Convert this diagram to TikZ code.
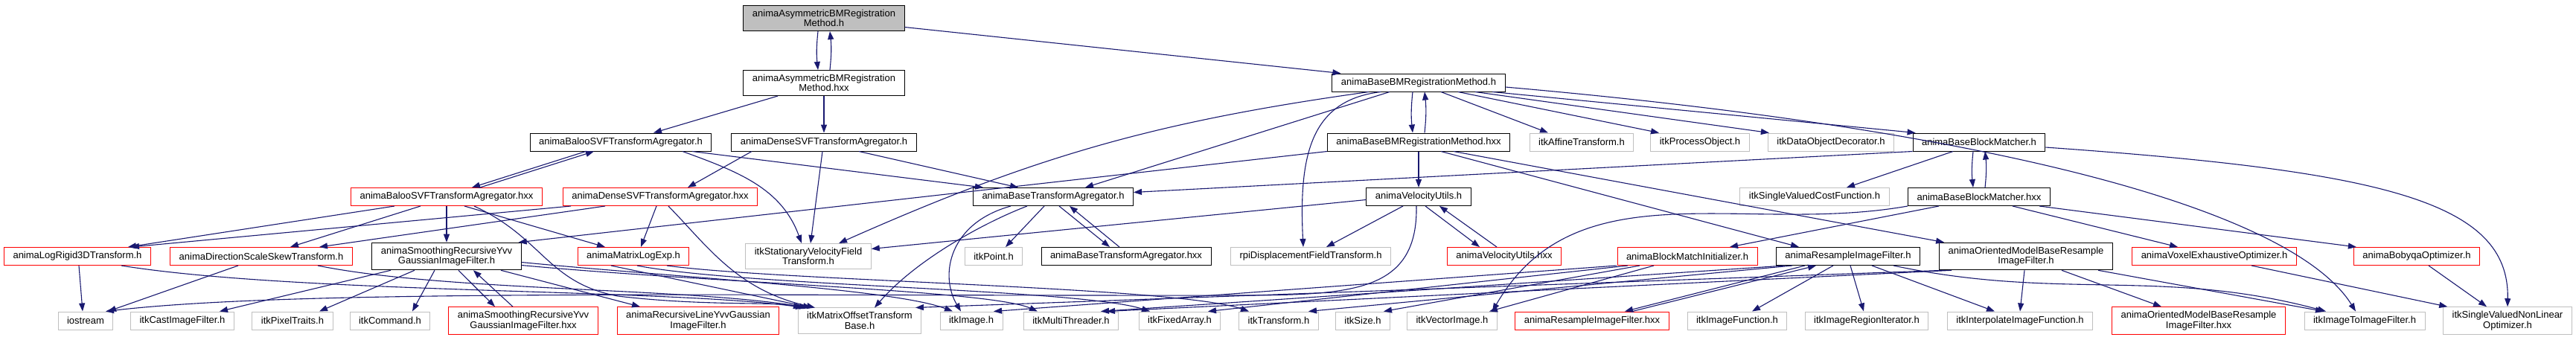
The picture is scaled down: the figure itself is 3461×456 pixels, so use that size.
\documentclass[tikz,border=0pt]{standalone}
\usepackage{fontspec}
\setmainfont{Liberation Sans}
\usetikzlibrary{arrows.meta}
\definecolor{depblue}{HTML}{191970}
\definecolor{extgray}{HTML}{BFBFBF}

\begin{document}
\begin{tikzpicture}[x=1pt, y=1pt,
    file/.style={draw=black, line width=1pt, rectangle, align=center, inner xsep=12pt, inner ysep=5.5pt,
        minimum height=24pt, font=\fontsize{13}{13.5}\selectfont},
    current/.style={file, fill=extgray},
    partial/.style={file, draw=red},
    external/.style={file, draw=extgray},
    dep/.style={draw=depblue, line width=1.1pt, -{Triangle[length=11pt, width=8pt]}}]
    \fill[white] (0,0) rectangle (3461,-456);
    \useasboundingbox (0,0) rectangle (3461,-456);

    % row 0 and 1
    \node[current] (root) at (1107,-24.5) {animaAsymmetricBMRegistration\\Method.h};
    \node[file] (Rx) at (1107,-111.5) {animaAsymmetricBMRegistration\\Method.hxx};
    \node[file] (BBMh) at (1906,-111) {animaBaseBMRegistrationMethod.h};

    % row 2
    \node[file] (BalooH) at (834,-191) {animaBalooSVFTransformAgregator.h};
    \node[file] (DenseH) at (1107,-191) {animaDenseSVFTransformAgregator.h};
    \node[file] (BBMx) at (1906,-191) {animaBaseBMRegistrationMethod.hxx};
    \node[external] (itkAffine) at (2125,-191) {itkAffineTransform.h};
    \node[external] (ProcObj) at (2284,-191) {itkProcessObject.h};
    \node[external] (DataObjDec) at (2460,-191) {itkDataObjectDecorator.h};
    \node[file] (BBlkM) at (2659,-191) {animaBaseBlockMatcher.h};

    % row 3
    \node[partial] (BalooX) at (600,-264.5) {animaBalooSVFTransformAgregator.hxx};
    \node[partial] (DenseX) at (887,-264.5) {animaDenseSVFTransformAgregator.hxx};
    \node[file] (BTA) at (1415,-264.5) {animaBaseTransformAgregator.h};
    \node[file] (VelUtils) at (1906,-264.5) {animaVelocityUtils.h};
    \node[external] (SVCost) at (2438,-264.5) {itkSingleValuedCostFunction.h};
    \node[file] (BBlkMx) at (2659,-264.5) {animaBaseBlockMatcher.hxx};

    % row 4
    \node[partial] (LogRigid) at (104,-344.5) {animaLogRigid3DTransform.h};
    \node[partial] (DirSSk) at (351,-344.5) {animaDirectionScaleSkewTransform.h};
    \node[file] (SmoothH) at (600,-344.5) {animaSmoothingRecursiveYvv\\GaussianImageFilter.h};
    \node[partial] (MatrixLogExp) at (851,-344.5) {animaMatrixLogExp.h};
    \node[external] (SVF) at (1086,-344.5) {itkStationaryVelocityField\\Transform.h};
    \node[external] (itkPoint) at (1335,-344.5) {itkPoint.h};
    \node[file] (BTAx) at (1513,-344.5) {animaBaseTransformAgregator.hxx};
    \node[external] (rpi) at (1761,-344.5) {rpiDisplacementFieldTransform.h};
    \node[partial] (VelUtilsX) at (2021,-344.5) {animaVelocityUtils.hxx};
    \node[partial] (BMInit) at (2267,-344.5) {animaBlockMatchInitializer.h};
    \node[file] (ResampleH) at (2483,-344.5) {animaResampleImageFilter.h};
    \node[file] (OrientedH) at (2722,-344.5) {animaOrientedModelBaseResample\\ImageFilter.h};
    \node[partial] (VoxelExh) at (2975,-344.5) {animaVoxelExhaustiveOptimizer.h};
    \node[partial] (Bobyqa) at (3247,-344.5) {animaBobyqaOptimizer.h};

    % row 5
    \foreach \name/\x/\txt in {iostream/115/iostream, Cast/245/itkCastImageFilter.h,
        PixelTraits/393/itkPixelTraits.h, Command/524/itkCommand.h, itkImage/1305/itkImage.h,
        MultiThreader/1439/itkMultiThreader.h, FixedArray/1585/itkFixedArray.h,
        itkTransform/1718/itkTransform.h, Size/1831/itkSize.h, VectorImage/1951/itkVectorImage.h,
        ImageFunction/2334/itkImageFunction.h, RegionIter/2508/itkImageRegionIterator.h,
        Interpolate/2714/itkInterpolateImageFunction.h, ImageToImage/3177/itkImageToImageFilter.h}
        \node[external] (\name) at (\x,-431) {\txt};
    \node[partial] (SmoothX) at (703,-431) {animaSmoothingRecursiveYvv\\GaussianImageFilter.hxx};
    \node[partial] (RecLine) at (938,-431) {animaRecursiveLineYvvGaussian\\ImageFilter.h};
    \node[external] (MOTB) at (1155,-431) {itkMatrixOffsetTransform\\Base.h};
    \node[partial] (ResampleX) at (2139,-431) {animaResampleImageFilter.hxx};
    \node[partial] (OrientedX) at (2954,-431) {animaOrientedModelBaseResample\\ImageFilter.hxx};
    \node[external] (SVNLO) at (3369,-431) {itkSingleValuedNonLinear\\Optimizer.h};

    % top
    \draw[dep] ([xshift=-8]root.south) to[bend right=6] ([xshift=-8]Rx.north);
    \draw[dep] ([xshift=8]Rx.north) to[bend right=6] ([xshift=8]root.south);
    \draw[dep] ([yshift=-12]root.east) -- ([xshift=12]BBMh.north west);
    \draw[dep] ([xshift=-62]Rx.south) -- ([xshift=44]BalooH.north);
    \draw[dep] (Rx) -- (DenseH);

    % agregators
    \draw[dep] ([xshift=-47]BalooH.south) -- ([xshift=34]BalooX.north);
    \draw[dep] ([xshift=45]BalooX.north) -- ([xshift=-36]BalooH.south);
    \draw[dep] ([xshift=83]BalooH.south) to[out=-20, in=110] ([xshift=-9]SVF.north);
    \draw[dep] ([xshift=96]BalooH.south) -- ([xshift=-94]BTA.north);
    \draw[dep] ([xshift=-97]DenseH.south) -- ([xshift=37]DenseX.north);
    \draw[dep] ([xshift=-2]DenseH.south) -- ([xshift=3]SVF.north);
    \draw[dep] ([xshift=47]DenseH.south) -- ([xshift=-47]BTA.north);

    % base registration method
    \draw[dep] ([xshift=-8]BBMh.south) to[bend right=6] ([xshift=-8]BBMx.north);
    \draw[dep] ([xshift=8]BBMx.north) to[bend right=6] ([xshift=8]BBMh.south);
    \draw[dep] ([xshift=30]BBMh.south) -- ([xshift=-45]itkAffine.north);
    \draw[dep] ([xshift=53]BBMh.south) -- ([xshift=-55]ProcObj.north);
    \draw[dep] ([xshift=76]BBMh.south) -- ([xshift=2]DataObjDec.north west);
    \draw[dep] ([xshift=99]BBMh.south) -- ([xshift=4]BBlkM.north west);
    \draw[dep] ([yshift=-6]BBMh.east) .. controls (2720,-178) and (3085,-290) .. ([xshift=-12]ImageToImage.north);
    \draw[dep] ([xshift=-39]BBMh.south) -- ([xshift=43]BTA.north);
    \draw[dep] ([xshift=-67]BBMh.south) to[bend right=8] ([xshift=41]SVF.north);
    \draw[dep] ([xshift=-51]BBMh.south) .. controls (1760,-135) and (1745,-210) .. ([xshift=-10]rpi.north);
    \draw[dep] (BBMx) -- (VelUtils);
    \draw[dep] (BBMx.south west) -- ([xshift=-4]SmoothH.north east);
    \draw[dep] ([xshift=30]BBMx.south) -- ([xshift=-66]ResampleH.north);
    \draw[dep] ([xshift=47]BBMx.south) -- ([xshift=7]OrientedH.north west);

    % velocity utils
    \draw[dep] ([yshift=-4]VelUtils.west) -- ([yshift=10]SVF.east);
    \draw[dep] ([xshift=-21]VelUtils.south) -- ([xshift=21]rpi.north);
    \draw[dep] ([xshift=9]VelUtils.south) -- ([xshift=-33]VelUtilsX.north);
    \draw[dep] ([xshift=-10]VelUtilsX.north) -- ([xshift=28]VelUtils.south);
    \draw[dep] ([xshift=-3]VelUtils.south) .. controls (1905,-390) and (1820,-396) .. (1680,-397)
        .. controls (1000,-398) and (400,-388) .. ([xshift=27]iostream.north);

    % base transform agregator
    \draw[dep] ([xshift=-12]BTA.south) -- ([xshift=16]itkPoint.north);
    \draw[dep] ([xshift=8]BTA.south) -- ([xshift=-22]BTAx.north);
    \draw[dep] ([xshift=-9]BTAx.north) -- ([xshift=22]BTA.south);
    \draw[dep] ([xshift=-57]BTA.south) .. controls (1275,-300) and (1262,-370) .. ([xshift=-14]itkImage.north);
    \draw[dep] ([xshift=-35]BTA.south) .. controls (1320,-300) and (1230,-350) .. ([xshift=20]MOTB.north);

    % block matcher
    \draw[dep] (BBlkM.south west) -- ([yshift=6]BTA.east);
    \draw[dep] ([xshift=-35]BBlkM.south) -- ([xshift=43]SVCost.north);
    \draw[dep] ([xshift=-8]BBlkM.south) to[bend right=6] ([xshift=-8]BBlkMx.north);
    \draw[dep] ([xshift=8]BBlkMx.north) to[bend right=6] ([xshift=8]BBlkM.south);
    \draw[dep] ([yshift=-7]BBlkM.east) .. controls (3200,-230) and (3372,-270) .. (SVNLO.north);
    \draw[dep] ([xshift=-54]BBlkMx.south) -- ([xshift=57]BMInit.north);
    \draw[dep] (BBlkMx.south west) to[out=-170, in=60] ([xshift=54]VectorImage.north);
    \draw[dep] ([xshift=45]BBlkMx.south) -- ([xshift=-49]VoxelExh.north);
    \draw[dep] ([xshift=81]BBlkMx.south) -- ([xshift=4]Bobyqa.north west);
    \draw[dep] ([xshift=50]VoxelExh.south) -- ([xshift=6]SVNLO.north west);
    \draw[dep] ([xshift=16]Bobyqa.south) -- ([xshift=-28]SVNLO.north);

    % resample filters
    \draw[dep] ([xshift=-58]ResampleH.south) -- ([xshift=44]ResampleX.north);
    \draw[dep] ([xshift=54]ResampleX.north) -- ([xshift=-43]ResampleH.south);
    \draw[dep] ([xshift=-20]ResampleH.south) -- ([xshift=20]ImageFunction.north);
    \draw[dep] ([xshift=3]ResampleH.south) -- ([xshift=-4]RegionIter.north);
    \draw[dep] ([xshift=32]ResampleH.south) -- ([xshift=-34]Interpolate.north);
    \draw[dep] ([xshift=61]ResampleH.south) to[out=-12, in=165] ([xshift=-52]ImageToImage.north);
    \draw[dep] ([xshift=-85]ResampleH.south) -- ([xshift=40]MultiThreader.north);
    \draw[dep] ([xshift=-75]ResampleH.south) -- ([xshift=40]itkTransform.north);
    \draw[dep] ([xshift=48]OrientedH.south) -- ([xshift=-50]OrientedX.north);
    \draw[dep] ([xshift=-2]OrientedH.south) -- (Interpolate.north);
    \draw[dep] ([xshift=97]OrientedH.south) -- ([xshift=-55]ImageToImage.north);
    \draw[dep] ([xshift=-110]OrientedH.south) -- ([xshift=75]MOTB.north);
    \draw[dep] ([xshift=-100]OrientedH.south) -- ([xshift=48]MultiThreader.north);
    \draw[dep] ([xshift=-95]BMInit.south) -- ([xshift=30]itkImage.north);
    \draw[dep] ([xshift=-80]BMInit.south) -- ([xshift=38]FixedArray.north);
    \draw[dep] ([xshift=-64]BMInit.south) -- ([xshift=28]Size.north);
    \draw[dep] ([xshift=-45]BMInit.south) -- ([xshift=50]VectorImage.north);

    % left part
    \draw[dep] ([xshift=-70]BalooX.south) -- ([xshift=68]LogRigid.north);
    \draw[dep] ([xshift=-35]BalooX.south) -- ([xshift=39]DirSSk.north);
    \draw[dep] (BalooX) -- (SmoothH);
    \draw[dep] ([xshift=24]BalooX.south) -- ([xshift=-38]MatrixLogExp.north);
    \draw[dep] ([xshift=37]BalooX.south) .. controls (730,-320) and (735,-380) .. (830,-398)
        .. controls (950,-412) and (1040,-405) .. ([xshift=-78]MOTB.north);
    \draw[dep] ([xshift=-120]DenseX.south) -- ([xshift=72]LogRigid.north);
    \draw[dep] ([xshift=-74]DenseX.south) -- ([xshift=78]DirSSk.north);
    \draw[dep] ([xshift=-5]DenseX.south) -- ([xshift=10]MatrixLogExp.north);
    \draw[dep] ([xshift=11]DenseX.south) .. controls (950,-330) and (990,-390) .. ([xshift=-60]MOTB.north);
    \draw[dep] ([xshift=2]LogRigid.south) -- ([xshift=-4]iostream.north);
    \draw[dep] ([xshift=59]LogRigid.south) .. controls (400,-395) and (900,-388) .. ([xshift=-75]MOTB.north);
    \draw[dep] ([xshift=-31]DirSSk.south) -- ([xshift=30]iostream.north);
    \draw[dep] ([xshift=76]DirSSk.south) .. controls (600,-392) and (920,-386) .. ([xshift=-70]MOTB.north);
    \draw[dep] ([xshift=-75]SmoothH.south) -- ([xshift=50]Cast.north);
    \draw[dep] ([xshift=-43]SmoothH.south) -- ([xshift=36]PixelTraits.north);
    \draw[dep] ([xshift=-16]SmoothH.south) -- ([xshift=30]Command.north);
    \draw[dep] ([xshift=16]SmoothH.south) -- ([xshift=-38]SmoothX.north);
    \draw[dep] ([xshift=-14]SmoothX.north) -- ([xshift=36]SmoothH.south);
    \draw[dep] ([xshift=73]SmoothH.south) -- ([xshift=-78]RecLine.north);
    \draw[dep] ([yshift=-8]SmoothH.east) .. controls (900,-372) and (1200,-388) .. ([xshift=-25]itkImage.north);
    \draw[dep] ([yshift=-12]SmoothH.east) .. controls (950,-380) and (1330,-390) .. ([xshift=-45]MultiThreader.north);
    \draw[dep] ([xshift=-30]MatrixLogExp.south) -- ([xshift=-65]MOTB.north);
    \draw[dep] ([xshift=5]MatrixLogExp.south) .. controls (1000,-385) and (1450,-388) .. ([xshift=-40]FixedArray.north);
    \draw[dep] ([xshift=45]MatrixLogExp.south) .. controls (1050,-378) and (1580,-385) .. ([xshift=-40]itkTransform.north);
\end{tikzpicture}
\end{document}
